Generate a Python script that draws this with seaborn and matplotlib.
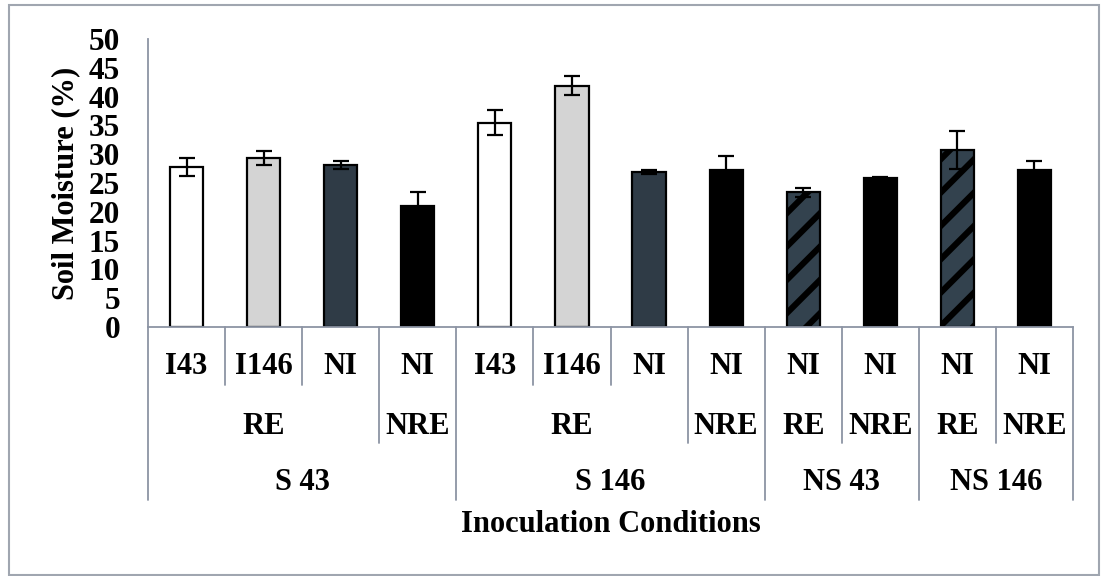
import matplotlib
matplotlib.use("Agg")
import matplotlib.pyplot as plt
from matplotlib.patches import Rectangle
import numpy as np
import pandas as pd
import seaborn as sns

# Soil moisture by inoculation condition (mean and error)
inoculum = ["I43", "I146", "NI", "NI", "I43", "I146", "NI", "NI", "NI", "NI", "NI", "NI"]
rhizo = ["RE", "RE", "RE", "NRE", "RE", "RE", "RE", "NRE", "RE", "NRE", "RE", "NRE"]
soil = ["S 43"] * 4 + ["S 146"] * 4 + ["NS 43"] * 2 + ["NS 146"] * 2
moisture = [27.8, 29.4, 28.2, 21.0, 35.5, 41.9, 26.9, 27.2, 23.4, 25.8, 30.8, 27.2]
error = [1.5, 1.2, 0.7, 2.4, 2.2, 1.7, 0.4, 2.5, 0.8, 0.3, 3.3, 1.6]

fill = ["#ffffff", "#d4d4d4", "#2b3b4a", "#000000",
        "#ffffff", "#d4d4d4", "#2b3b4a", "#000000",
        "#2e4252", "#000000", "#2e4252", "#000000"]
striped = [False] * 8 + [True, False, True, False]

W, H = 1104, 576
sns.set_theme(style="white")
plt.rcParams["font.family"] = ["Liberation Serif", "DejaVu Serif"]
plt.rcParams["font.weight"] = "bold"
plt.rcParams["text.color"] = "black"
plt.rcParams["axes.labelcolor"] = "black"
plt.rcParams["ytick.labelcolor"] = "black"
plt.rcParams["hatch.color"] = "black"
plt.rcParams["hatch.linewidth"] = 4.4

fig = plt.figure(figsize=(W / 100, H / 100), dpi=100)
ax_left, ax_right, ax_top, ax_bot = 148, 1073, 39, 327
ax = fig.add_axes([ax_left / W, 1 - ax_bot / H, (ax_right - ax_left) / W, (ax_bot - ax_top) / H])
ax_h = ax_bot - ax_top

df = pd.DataFrame({"pos": list(range(len(moisture))), "moisture": moisture})
sns.barplot(data=df, x="pos", y="moisture", hue="pos",
            palette={i: c for i, c in enumerate(fill)}, legend=False,
            width=0.43, edgecolor="black", linewidth=1.6, errorbar=None, ax=ax)

for p in ax.patches:
    idx = int(round(p.get_x() + p.get_width() / 2))
    if striped[idx]:
        p.set_hatch("/")

ax.errorbar(df["pos"], moisture, yerr=error, fmt="none", ecolor="black",
            elinewidth=1.6, capsize=6, capthick=1.6, zorder=5)

ax.set_xlim(-0.5, len(moisture) - 0.5)
ax.set_ylim(0, 50)
ax.set_yticks(np.arange(0, 51, 5))
ax.tick_params(axis="y", direction="out", length=7, width=1.2, color="#8c94a4",
               pad=13, labelsize=22.5, labelcolor="black")
for t in ax.get_yticklabels():
    t.set_fontweight("bold")
ax.set_xticks([])
ax.set_xlabel("")
ax.set_ylabel("Soil Moisture (%)", fontsize=22, fontweight="bold", labelpad=6,
              color="black")

for s in ["top", "right"]:
    ax.spines[s].set_visible(False)
for s in ["left", "bottom"]:
    ax.spines[s].set_color("#8c94a4")
    ax.spines[s].set_linewidth(1.3)

# Hierarchical category axis
tr = ax.get_xaxis_transform()
def yfrac(py):
    return (ax_bot - py) / ax_h

line_ends = {1: 385, 2: 443, 3: 500}
n = len(moisture)
bounds = [(-0.5, 3)]
for i in range(n - 1):
    if soil[i] != soil[i + 1]:
        lvl = 3
    elif rhizo[i] != rhizo[i + 1]:
        lvl = 2
    else:
        lvl = 1
    bounds.append((i + 0.5, lvl))
bounds.append((n - 0.5, 3))
for xb, lvl in bounds:
    ax.plot([xb, xb], [0, yfrac(line_ends[lvl])], transform=tr, color="#8c94a4",
            lw=1.3, clip_on=False)

label_kw = dict(transform=tr, ha="center", va="center", fontsize=22, fontweight="bold",
                color="black", clip_on=False)
for i, lab in enumerate(inoculum):
    ax.text(i, yfrac(367), lab, **label_kw)

def runs(keys):
    out = []
    start = 0
    for i in range(1, len(keys) + 1):
        if i == len(keys) or keys[i] != keys[start]:
            out.append((keys[start], start, i - 1))
            start = i
    return out

for key, a, b in runs(list(zip(soil, rhizo))):
    ax.text((a + b) / 2, yfrac(426), key[1], **label_kw)
for key, a, b in runs(soil):
    ax.text((a + b) / 2, yfrac(483), key, **label_kw)

fig.text((ax_left + ax_right) / 2 / W, 1 - 525 / H, "Inoculation Conditions",
         ha="center", va="center", fontsize=22, fontweight="bold", color="black")

# Chart frame
fig.patches.append(Rectangle((9 / W, 1 - 575 / H), (1099 - 9) / W, (575 - 5) / H,
                             transform=fig.transFigure, fill=False,
                             edgecolor="#a0a6b0", lw=1.5))

fig.savefig("out.png", dpi=100, facecolor="white")
